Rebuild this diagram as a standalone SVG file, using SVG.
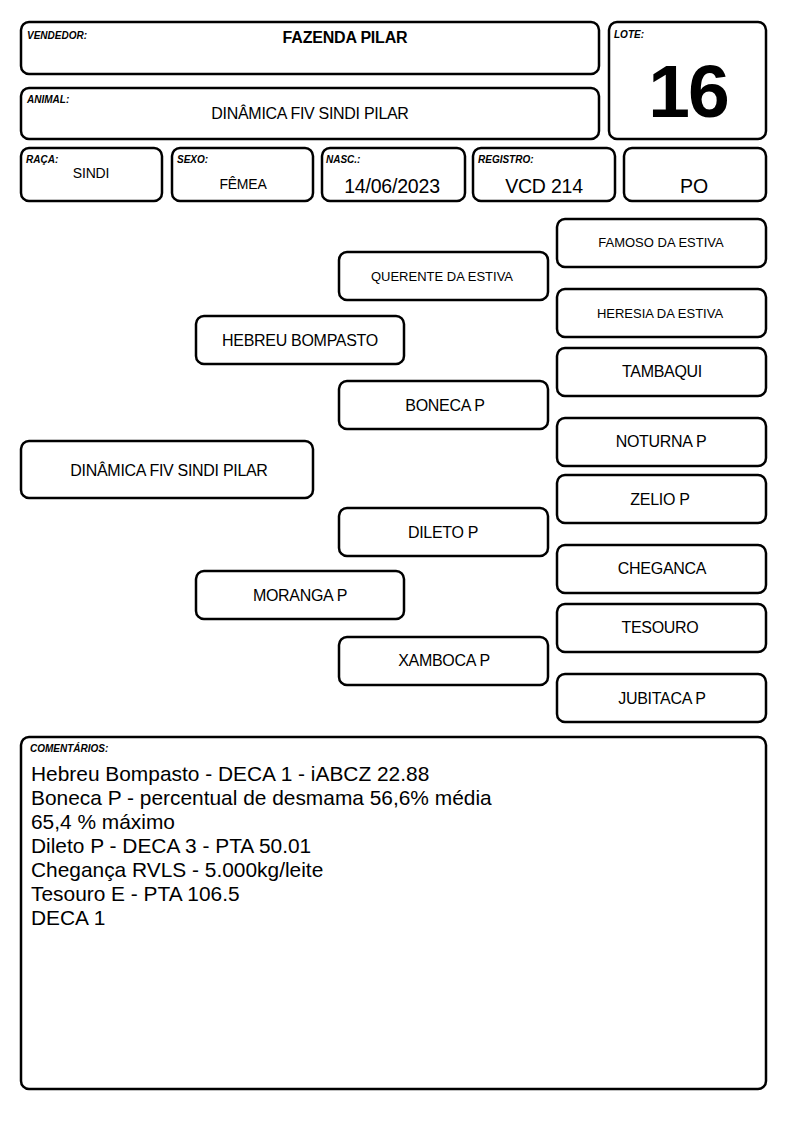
<svg xmlns="http://www.w3.org/2000/svg" width="794" height="1123" viewBox="0 0 794 1123">
<style>
.b{fill:#fff;stroke:#000;stroke-width:2.5}
.lbl{font-family:"Liberation Sans",Arial,sans-serif;font-size:10px;font-weight:bold;font-style:italic;fill:#000}
.t{font-family:"Liberation Sans",Arial,sans-serif;fill:#000;text-anchor:middle}
.m{font-size:16px;letter-spacing:-0.3px}
.s{font-size:13px}
.v{font-size:19.5px;letter-spacing:-0.2px}
.c{font-family:"Liberation Sans",Arial,sans-serif;font-size:20.9px;fill:#000}
</style>
<rect width="794" height="1123" fill="#fff"/>
<g id="vendedor"><rect class="b" x="21" y="22" width="578" height="52" rx="8"/><text class="lbl" x="27" y="39">VENDEDOR:</text><text class="t" x="345" y="43" font-size="16" font-weight="bold" letter-spacing="-0.2">FAZENDA PILAR</text></g>
<g id="animal"><rect class="b" x="21" y="88" width="578" height="51" rx="8"/><text class="lbl" x="27" y="103">ANIMAL:</text><text class="t m" x="310" y="119">DINÂMICA FIV SINDI PILAR</text></g>
<g id="lote"><rect class="b" x="609" y="22" width="157" height="117" rx="8"/><text class="lbl" x="614" y="38">LOTE:</text><text class="t" x="688" y="117" font-size="75" font-weight="bold" letter-spacing="-2">16</text></g>
<g id="raca"><rect class="b" x="21" y="148" width="141" height="53" rx="8"/><text class="lbl" x="26" y="163">RAÇA:</text><text class="t" x="91" y="178" font-size="14" letter-spacing="-0.2">SINDI</text></g>
<g id="sexo"><rect class="b" x="172" y="148" width="141" height="53" rx="8"/><text class="lbl" x="177" y="163">SEXO:</text><text class="t" x="243" y="189" font-size="14" letter-spacing="-0.2">FÊMEA</text></g>
<g id="nasc"><rect class="b" x="322" y="148" width="143" height="53" rx="8"/><text class="lbl" x="326" y="163">NASC.:</text><text class="t v" x="392" y="193">14/06/2023</text></g>
<g id="registro"><rect class="b" x="473" y="148" width="142" height="53" rx="8"/><text class="lbl" x="478" y="163">REGISTRO:</text><text class="t v" x="544" y="193">VCD 214</text></g>
<g id="po"><rect class="b" x="624" y="148" width="142" height="53" rx="8"/><text class="t v" x="694" y="193">PO</text></g>
<g id="connectors"></g>
<g id="n-dinamica"><rect class="b" x="21" y="441" width="292" height="57" rx="8"/><text class="t m" x="169" y="476">DINÂMICA FIV SINDI PILAR</text></g>
<g id="n-hebreu"><rect class="b" x="196" y="316" width="208" height="48" rx="8"/><text class="t m" x="300" y="346">HEBREU BOMPASTO</text></g>
<g id="n-moranga"><rect class="b" x="196" y="571" width="208" height="48" rx="8"/><text class="t m" x="300" y="601">MORANGA P</text></g>
<g id="n-querente"><rect class="b" x="339" y="252" width="209" height="48" rx="8"/><text class="t s" x="442" y="281">QUERENTE DA ESTIVA</text></g>
<g id="n-boneca"><rect class="b" x="339" y="381" width="209" height="48" rx="8"/><text class="t m" x="445" y="411">BONECA P</text></g>
<g id="n-dileto"><rect class="b" x="339" y="508" width="209" height="48" rx="8"/><text class="t m" x="443" y="538">DILETO P</text></g>
<g id="n-xamboca"><rect class="b" x="339" y="637" width="209" height="48" rx="8"/><text class="t m" x="444" y="666">XAMBOCA P</text></g>
<g id="n-famoso"><rect class="b" x="557" y="219" width="209" height="48" rx="8"/><text class="t s" x="661" y="247">FAMOSO DA ESTIVA</text></g>
<g id="n-heresia"><rect class="b" x="557" y="289" width="209" height="48" rx="8"/><text class="t s" x="660" y="318">HERESIA DA ESTIVA</text></g>
<g id="n-tambaqui"><rect class="b" x="557" y="348" width="209" height="48" rx="8"/><text class="t m" x="662" y="377">TAMBAQUI</text></g>
<g id="n-noturna"><rect class="b" x="557" y="418" width="209" height="48" rx="8"/><text class="t m" x="661" y="447">NOTURNA P</text></g>
<g id="n-zelio"><rect class="b" x="557" y="475" width="209" height="48" rx="8"/><text class="t m" x="660" y="505">ZELIO P</text></g>
<g id="n-cheganca"><rect class="b" x="557" y="545" width="209" height="48" rx="8"/><text class="t m" x="662" y="574">CHEGANCA</text></g>
<g id="n-tesouro"><rect class="b" x="557" y="604" width="209" height="48" rx="8"/><text class="t m" x="660" y="633">TESOURO</text></g>
<g id="n-jubitaca"><rect class="b" x="557" y="674" width="209" height="48" rx="8"/><text class="t m" x="662" y="704">JUBITACA P</text></g>
<g id="comentarios"><rect class="b" x="21" y="737" width="745" height="352" rx="8"/><text class="lbl" x="30" y="752">COMENTÁRIOS:</text>
<text class="c" x="31" y="781">Hebreu Bompasto - DECA 1 - iABCZ 22.88</text>
<text class="c" x="31" y="805">Boneca P - percentual de desmama 56,6% média</text>
<text class="c" x="31" y="829">65,4 % máximo</text>
<text class="c" x="31" y="853">Dileto P - DECA 3 - PTA 50.01</text>
<text class="c" x="31" y="877">Chegança RVLS - 5.000kg/leite</text>
<text class="c" x="31" y="901">Tesouro E - PTA 106.5</text>
<text class="c" x="31" y="925">DECA 1</text>
</g>
</svg>
